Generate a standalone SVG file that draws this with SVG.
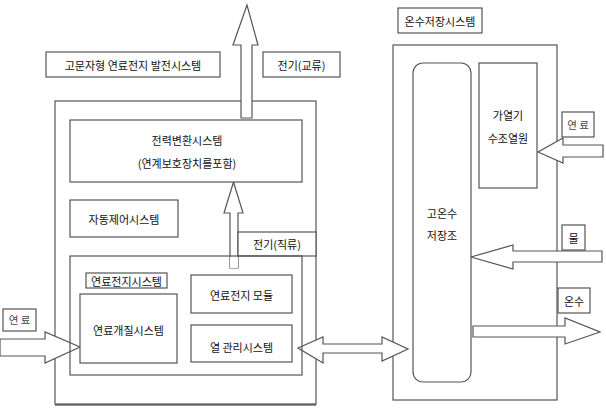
<svg xmlns="http://www.w3.org/2000/svg" width="606" height="409" viewBox="0 0 606 409">
<style>
.b{fill:#fff;stroke:#555;stroke-width:1.2}
.n{fill:none;stroke:#555;stroke-width:1.2}
.a{fill:#fff;stroke:#555;stroke-width:1.2;stroke-linejoin:miter}
text{font-family:"Noto Sans CJK KR","Noto Sans",sans-serif;font-size:11px;fill:#111;text-anchor:middle;dominant-baseline:central}
.l{fill:#444;font-size:10.5px}
</style>
<rect width="606" height="409" fill="#fff"/>
<g id="title"><rect class="b" x="46" y="52" width="174" height="25"/><text x="133" y="64.5">고문자형 연료전지 발전시스템</text></g>
<g id="outer-left"><rect class="n" x="55" y="101" width="261" height="303"/><line x1="55" y1="405" x2="316" y2="405" stroke="#222" stroke-width="1"/></g>
<g id="ac-label"><rect class="b" x="263" y="52" width="77" height="25"/><text x="301.5" y="64.5">전기(교류)</text></g>
<g id="hot-title"><rect class="b" x="398" y="8" width="84" height="25"/><text x="440" y="20.5">온수저장시스템</text></g>
<g id="outer-right"><rect class="n" x="393" y="45" width="164" height="355"/></g>
<g id="connectors">
<polygon class="a" points="241,118 241,45 233,45 247,5 258,45 252,45 252,118"/>
<polygon class="a" points="230,268 230,213 224,213 233.5,182 243,213 238,213 238,268"/>
<polygon class="a" points="0,339 45,339 45,332 80,347 45,363 45,356 0,356"/>
<polygon class="a" points="298,348 323,337 323,344 382,344 382,337 408,349 382,361 382,353 323,353 323,363"/>
<polygon class="a" points="603,145 563,145 563,138 538,152 563,163 563,157 603,157"/>
<polygon class="a" points="602,251 513,251 513,245 471,257 513,269 513,262 602,262"/>
<polygon class="a" points="473,326 565,326 565,318 600,332 565,344 565,337 473,337"/>
</g>
<g id="power-conv"><rect class="b" x="70" y="120" width="232" height="62"/><text x="187" y="140">전력변환시스템</text><text x="187" y="163">(연계보호장치를포함)</text></g>
<g id="auto-ctrl"><rect class="b" x="70" y="200" width="108" height="37"/><text x="124" y="218.5">자동제어시스템</text></g>
<g id="dc-label"><rect class="b" x="238" y="232" width="78" height="24"/><text x="277" y="244">전기(직류)</text></g>
<g id="fc-system"><rect class="n" x="70" y="256" width="232" height="119"/><polygon fill="#fff" points="230,257 238,257 238,268 230,268"/></g>
<g id="fc-label"><rect class="b" x="86" y="273" width="81" height="15"/><text x="126.5" y="280.5">연료전지시스템</text></g>
<g id="reformer"><rect class="b" x="80" y="294" width="97" height="69"/><text x="128.5" y="330">연료개질시스템</text></g>
<g id="fc-module"><rect class="b" x="191" y="275" width="101" height="38"/><text x="241.5" y="295">연료전지 모듈</text></g>
<g id="thermal"><rect class="b" x="191" y="325" width="101" height="37"/><text x="241.5" y="347">열 관리시스템</text></g>
<g id="fuel-left"><rect class="b" x="3" y="309" width="33" height="22"/><text class="l" x="19.5" y="319">연 료</text></g>
<g id="tank"><rect class="b" x="413" y="63" width="58" height="319" rx="10"/><text x="442" y="213">고온수</text><text x="442" y="235">저장조</text></g>
<g id="heater"><rect class="b" x="479" y="63" width="58" height="125"/><text x="508" y="115">가열기</text><text x="508" y="138">수조열원</text></g>
<g id="fuel-right"><rect class="b" x="562" y="112" width="32" height="25"/><text class="l" x="578" y="124.5">연 료</text></g>
<g id="water"><rect class="b" x="562" y="225" width="23" height="25"/><text x="573.5" y="237.5">물</text></g>
<g id="hot-water"><rect class="b" x="558" y="288" width="32" height="25"/><text x="574" y="300.5">온수</text></g>
</svg>
